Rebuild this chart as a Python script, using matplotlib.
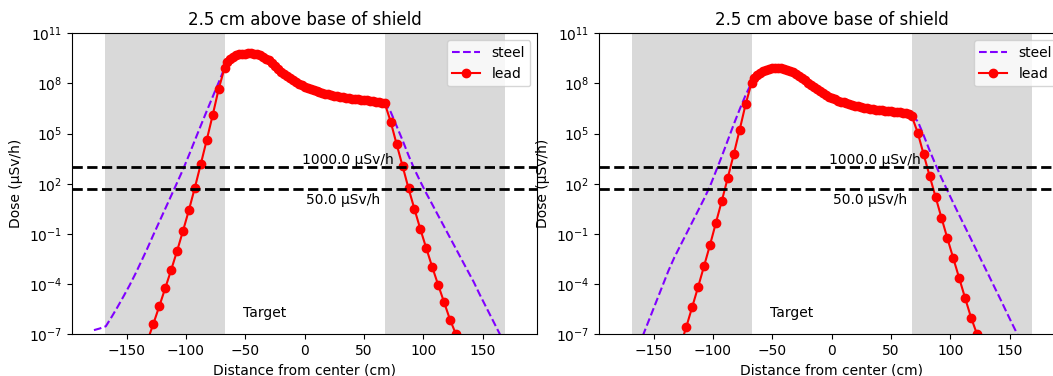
import numpy as np
import matplotlib
matplotlib.use("Agg")
import matplotlib.pyplot as plt

# positions (cm); shield inner/outer faces at +-67.5 / +-168.5
x_inner = [-67.5, -65.0, -62.5, -60.0, -57.5, -55.0, -52.5, -50.0, -47.5, -45.0,
           -42.5, -40.0, -37.5, -35.0, -32.5, -30.0, -27.5, -25.0, -22.5, -20.0,
           -17.5, -15.0, -12.5, -10.0, -7.5, -5.0, -2.5, 0.0, 2.5, 5.0, 7.5,
           10.0, 12.5, 15.0, 17.5, 20.0, 22.5, 25.0, 27.5, 30.0, 32.5, 35.0,
           37.5, 40.0, 42.5, 45.0, 47.5, 50.0, 52.5, 55.0, 57.5, 60.0, 62.5,
           65.0, 67.5]
x_lead_left = [-132.5, -127.5, -122.5, -117.5, -112.5, -107.5, -102.5, -97.5,
               -92.5, -87.5, -82.5, -77.5, -72.5]
x_lead_right = [72.5, 77.5, 82.5, 87.5, 92.5, 97.5, 102.5, 107.5, 112.5, 117.5,
                122.5, 127.5, 132.5]
x_steel_left = [-177.5, -172.5, -167.5, -162.5, -157.5, -152.5, -147.5, -142.5,
                -137.5, -132.5, -127.5, -122.5, -117.5, -112.5, -107.5, -102.5,
                -97.5, -92.5, -87.5, -82.5, -77.5, -72.5]
x_steel_right = [72.5, 77.5, 82.5, 87.5, 92.5, 97.5, 102.5, 107.5, 112.5, 117.5,
                 122.5, 127.5, 132.5, 137.5, 142.5, 147.5, 152.5, 157.5, 162.5,
                 167.5, 172.5, 177.5]

# log10 dose (uSv/h), panel 1
inner_1 = [8.92, 9.30, 9.48, 9.61, 9.68, 9.74, 9.77, 9.79, 9.80, 9.80, 9.78,
           9.75, 9.68, 9.60, 9.49, 9.39, 9.22, 9.02, 8.85, 8.70, 8.55, 8.43,
           8.31, 8.20, 8.09, 7.99, 7.90, 7.81, 7.73, 7.66, 7.60, 7.55, 7.49,
           7.44, 7.39, 7.35, 7.31, 7.27, 7.24, 7.21, 7.18, 7.15, 7.13, 7.10,
           7.08, 7.06, 7.03, 7.01, 6.99, 6.96, 6.94, 6.92, 6.89, 6.86, 6.81]
lead_left_1 = [-7.4, -6.38, -5.33, -4.25, -3.16, -2.02, -0.82, 0.43, 1.77, 3.18,
               4.62, 6.10, 7.65]
lead_right_1 = [5.71, 4.36, 3.06, 1.73, 0.49, -0.72, -1.86, -2.98, -4.05, -5.09,
                -6.13, -7.0, -7.9]
steel_left_1 = [-6.75, -6.65, -6.52, -5.95, -5.35, -4.72, -4.07, -3.37, -2.62,
                -1.86, -1.06, -0.28, 0.5, 1.28, 2.06, 2.85, 3.71, 4.6, 5.48,
                6.35, 7.2, 8.05]
steel_right_1 = [6.3, 5.45, 4.6, 3.7, 2.87, 2.13, 1.43, 0.77, 0.1, -0.56, -1.23,
                 -1.89, -2.56, -3.22, -3.88, -4.62, -5.32, -6.02, -6.72, -7.42,
                 -8.1, -8.8]

# log10 dose (uSv/h), panel 2
inner_2 = [8.03, 8.30, 8.49, 8.63, 8.75, 8.82, 8.88, 8.91, 8.92, 8.92, 8.90,
           8.86, 8.82, 8.76, 8.67, 8.57, 8.46, 8.34, 8.19, 8.03, 7.89, 7.76,
           7.64, 7.52, 7.41, 7.31, 7.21, 7.13, 7.05, 6.98, 6.92, 6.87, 6.81,
           6.76, 6.71, 6.67, 6.63, 6.59, 6.55, 6.52, 6.49, 6.46, 6.43, 6.41,
           6.39, 6.37, 6.35, 6.33, 6.31, 6.29, 6.27, 6.24, 6.21, 6.16, 6.05]
lead_left_2 = [-8.8, -7.7, -6.57, -5.37, -4.17, -2.92, -1.66, -0.33, 0.99, 2.36,
               3.76, 5.23, 6.75]
lead_right_2 = [5.06, 3.76, 2.48, 1.23, -0.03, -1.26, -2.46, -3.65, -4.85, -6.01,
                -7.0, -8.0, -9.0]
steel_left_2 = [-10.4, -9.5, -8.6, -7.7, -6.8, -5.9, -5.0, -4.1, -3.2, -2.4,
                -1.7, -1.0, -0.3, 0.4, 1.1, 1.85, 2.75, 3.65, 4.6, 5.55, 6.45, 7.3]
steel_right_2 = [5.75, 4.9, 4.0, 3.15, 2.35, 1.6, 0.85, 0.12, -0.6, -1.32, -2.05,
                 -2.78, -3.5, -4.23, -4.95, -5.7, -6.43, -7.15, -7.9, -8.6, -9.3,
                 -10.0]

limits = [1000.0, 50.0]
shield = [(-168.5, -67.5), (67.5, 168.5)]

colors = plt.cm.rainbow(np.linspace(0, 1, 2))


def draw(ax, inner, lead_left, lead_right, steel_left, steel_right):
    x_lead = x_lead_left + x_inner + x_lead_right
    y_lead = 10 ** np.array(lead_left + inner + lead_right)
    x_steel = x_steel_left + x_inner + x_steel_right
    y_steel = 10 ** np.array(steel_left + inner + steel_right)

    for a, b in shield:
        ax.axvspan(a, b, color="#d9d9d9", lw=0)
    ax.plot(x_steel, y_steel, "--", color=colors[0], label="steel")
    ax.plot(x_lead, y_lead, "o-", color=colors[1], label="lead")
    for lim in limits:
        ax.axhline(lim, color="k", ls="--", lw=2)
    ax.text(-2, 10 ** 3.45, f"{limits[0]} µSv/h", ha="left", va="center")
    ax.text(1.5, 10 ** 1.03, f"{limits[1]} µSv/h", ha="left", va="center")
    ax.text(-34, 10 ** -5.75, "Target", ha="center", va="center")
    ax.set_yscale("log")
    ax.set_ylim(1e-7, 1e11)
    ax.set_xlim(-196, 196)
    ax.set_yticks([1e-7, 1e-4, 1e-1, 1e2, 1e5, 1e8, 1e11])
    ax.minorticks_off()
    ax.set_title("2.5 cm above base of shield")
    ax.set_xlabel("Distance from center (cm)")
    ax.set_ylabel("Dose (µSv/h)")
    ax.legend(loc="upper right")


fig = plt.figure(figsize=(10.53, 3.76), dpi=100)
W, H = 1053, 376
ax1 = fig.add_axes([72 / W, (H - 334.3) / H, 465.3 / W, 301 / H])
ax2 = fig.add_axes([599 / W, (H - 334.3) / H, 465.3 / W, 301 / H])
draw(ax1, inner_1, lead_left_1, lead_right_1, steel_left_1, steel_right_1)
draw(ax2, inner_2, lead_left_2, lead_right_2, steel_left_2, steel_right_2)

fig.savefig("out.png", dpi=100)
